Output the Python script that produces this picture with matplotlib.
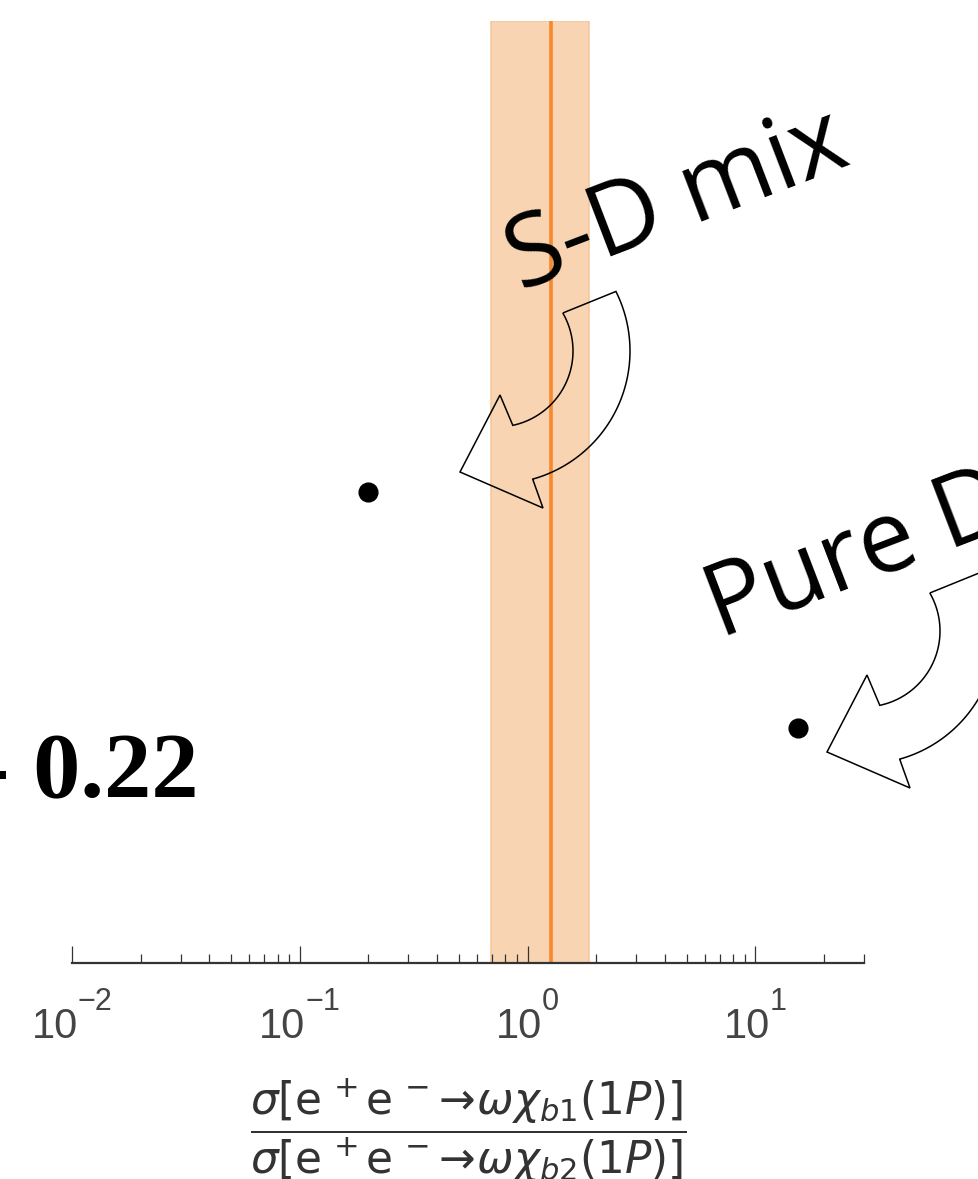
import numpy as np
import matplotlib
matplotlib.use('Agg')
import matplotlib.pyplot as plt
from matplotlib.path import Path
from matplotlib.patches import PathPatch
from matplotlib.transforms import blended_transform_factory, ScaledTranslation
from matplotlib.ticker import LogLocator, NullFormatter

# measured cross-section ratio: central value and error band
RATIO_CENTRAL = 1.27
RATIO_LOW = 0.69
RATIO_HIGH = 1.87

# model predictions
MODEL_NAMES = ['S-D mix', 'Pure D']
MODEL_RATIO = [0.2, 15.4]
MODEL_Y = [0.5, 0.25]

X_MIN, X_MAX = 0.01, 30
MAJOR_TICKS = [0.01, 0.1, 1, 10]

XLABEL = (r'$\dfrac{\sigma[\mathrm{e}^{\,+}\mathrm{e}^{\,-}\!\to\!\omega\chi_{b1}(1P)]}'
          r'{\sigma[\mathrm{e}^{\,+}\mathrm{e}^{\,-}\!\to\!\omega\chi_{b2}(1P)]}$')

W, H = 979, 1179

# hollow curved arrow: two concentric arcs (pixels, y pointing down,
# relative to the arc centre) closed by a tail edge and an arrow head
R_IN, R_OUT = 76, 133
TAIL_IN_ANG, TAIL_OUT_ANG = 30, 26.6
HEAD_IN_ANG, HEAD_OUT_ANG = -78, -74.4
ARROW_HEAD = [(3, 44), (-37, 121), (46, 157), (36, 129)]


def arc(r, a0, a1, n=60):
    t = np.radians(np.linspace(a0, a1, n))
    return np.column_stack([r * np.cos(t), -r * np.sin(t)])


def draw_arrow(fig, cx, cy):
    outline = np.vstack([arc(R_IN, TAIL_IN_ANG, HEAD_IN_ANG),
                         ARROW_HEAD,
                         arc(R_OUT, HEAD_OUT_ANG, TAIL_OUT_ANG)])
    outline = np.vstack([outline, outline[:1]])
    xs = (cx + outline[:, 0]) / W
    ys = 1 - (cy + outline[:, 1]) / H
    patch = PathPatch(Path(np.column_stack([xs, ys])), facecolor='none',
                      edgecolor='black', lw=1.1, joinstyle='miter',
                      transform=fig.transFigure, zorder=5)
    fig.add_artist(patch)


fig = plt.figure(figsize=(W / 100, H / 100), dpi=100)
ax = fig.add_axes([72 / W, 1 - 963 / H, (864 - 72) / W, (963 - 21) / H])

ax.axvspan(RATIO_LOW, RATIO_HIGH, facecolor='#f9d4b2', edgecolor='#f6c79e', lw=1.2, zorder=1)
ax.axvline(RATIO_CENTRAL, color='#f7892c', lw=2.6, zorder=2)
ax.plot(MODEL_RATIO, MODEL_Y, 'o', color='black', ms=13.5, ls='none', zorder=3)

ax.set_xscale('log')
ax.set_xlim(X_MIN, X_MAX)
ax.set_ylim(0, 1)
ax.yaxis.set_visible(False)
for side in ['top', 'left', 'right']:
    ax.spines[side].set_visible(False)
ax.spines['bottom'].set_color('#333333')
ax.spines['bottom'].set_linewidth(1.6)

ax.set_xticks(MAJOR_TICKS)
ax.xaxis.set_major_formatter(NullFormatter())
ax.xaxis.set_minor_locator(LogLocator(base=10, subs=np.arange(2, 10), numticks=20))
ax.xaxis.set_minor_formatter(NullFormatter())
ax.tick_params(axis='x', which='major', direction='in', length=12.5, width=0.9,
               color='#333333')
ax.tick_params(axis='x', which='minor', direction='in', length=6.5, width=0.9,
               color='#333333')

# tick labels "10" with a raised exponent, centred under each major tick
trans = blended_transform_factory(ax.transData, ax.transAxes)
base_y = -(1038 - 963) / 942
exp_y = -(1010 - 963) / 942
pairs = []
for v in MAJOR_TICKS:
    exponent = str(int(round(np.log10(v)))).replace('-', '\u2212')
    tb = ax.text(v, base_y, '10', transform=trans, ha='left', va='baseline',
                 fontsize=30, color='#444444', family='Liberation Sans', clip_on=False)
    te = ax.text(v, exp_y, exponent, transform=trans, ha='left', va='baseline',
                 fontsize=22, color='#444444', family='Liberation Sans', clip_on=False)
    pairs.append((tb, te))

fig.canvas.draw()
renderer = fig.canvas.get_renderer()
for tb, te in pairs:
    wb = tb.get_window_extent(renderer).width
    we = te.get_window_extent(renderer).width
    left = -(wb + we) / 2
    tb.set_transform(trans + ScaledTranslation(left / fig.dpi, 0, fig.dpi_scale_trans))
    te.set_transform(trans + ScaledTranslation((left + wb) / fig.dpi, 0, fig.dpi_scale_trans))

ax.set_xlabel(XLABEL, fontsize=31.5, color='#333333', math_fontfamily='dejavusans')
ax.xaxis.set_label_coords(0.5, -(1131 - 963) / 942)
ax.xaxis.label.set_va('center')

# model labels and arrows
fig.text(521 / W, 1 - 291 / H, MODEL_NAMES[0], rotation=21, rotation_mode='anchor',
         ha='left', va='baseline', fontsize=72, family='Open Sans')
fig.text(720 / W, 1 - 638 / H, MODEL_NAMES[1], rotation=21, rotation_mode='anchor',
         ha='left', va='baseline', fontsize=72, family='Open Sans')
draw_arrow(fig, 497, 351)
draw_arrow(fig, 864, 631)

fig.text(199 / W, 1 - 797 / H, '- 0.22', ha='right', va='baseline',
         fontsize=68, family='Liberation Serif', weight='bold')

fig.savefig('out.png', dpi=100)
